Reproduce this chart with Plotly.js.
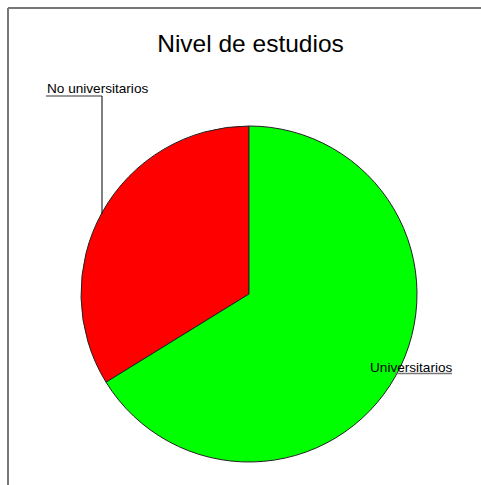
<!DOCTYPE html>
<html>
<head>
<meta charset="utf-8">
<script src="https://cdn.plot.ly/plotly-3.0.1.min.js"></script>
<style>html,body{margin:0;padding:0;background:#fff;}#chart{width:481px;height:485px;}</style>
</head>
<body>
<div id="chart"></div>
<script>
var labels = ["No universitarios", "Universitarios"];
var values = [33.8, 66.2];
var colors = ["#ff0000", "#00ff00"];
var chartTitle = "Nivel de estudios";

var W = 481, H = 485;
function px(x){ return x / W; }
function py(y){ return 1 - y / H; }

var total = values.reduce(function(a, b){ return a + b; }, 0);
var startAngle = -360 * values[0] / total;

var data = [{
  type: "pie",
  labels: labels,
  values: values,
  sort: false,
  direction: "clockwise",
  rotation: startAngle,
  textinfo: "none",
  hoverinfo: "label+percent",
  marker: { colors: colors, line: { color: "#222", width: 1 } },
  domain: { x: [px(81), px(417)], y: [py(462), py(126)] },
  showlegend: false
}];

var grey = "#777";
var layout = {
  width: W, height: H,
  margin: { l: 0, r: 0, t: 0, b: 0 },
  paper_bgcolor: "#fff",
  font: { family: "Liberation Sans, Arial, sans-serif", color: "#000" },
  title: {
    text: chartTitle,
    font: { size: 24.5, family: "Liberation Sans, Arial, sans-serif", color: "#000" },
    x: px(250.5), xanchor: "center", xref: "paper",
    y: py(43), yanchor: "middle", yref: "paper"
  },
  annotations: [
    { text: labels[0], xref: "paper", yref: "paper", x: px(45), xanchor: "left",
      y: py(88), yanchor: "middle", showarrow: false, font: { size: 13.6 } },
    { text: labels[1], xref: "paper", yref: "paper", x: px(368), xanchor: "left",
      y: py(367), yanchor: "middle", showarrow: false, font: { size: 13.6 } }
  ],
  shapes: [
    { type: "line", xref: "paper", yref: "paper", x0: px(8), y0: py(8), x1: px(481), y1: py(8), line: { color: grey, width: 2 } },
    { type: "line", xref: "paper", yref: "paper", x0: px(8), y0: py(8), x1: px(8), y1: py(485), line: { color: grey, width: 2 } },
    { type: "line", xref: "paper", yref: "paper", x0: px(46), y0: py(96), x1: px(102), y1: py(96), line: { color: grey, width: 1.5 } },
    { type: "line", xref: "paper", yref: "paper", x0: px(102), y0: py(96), x1: px(102), y1: py(214), line: { color: "#000", width: 1 } },
    { type: "line", xref: "paper", yref: "paper", x0: px(395), y0: py(373.5), x1: px(452), y1: py(373.5), line: { color: grey, width: 1.5 } }
  ]
};

Plotly.newPlot("chart", data, layout, { displayModeBar: false, staticPlot: true });
</script>
</body>
</html>
